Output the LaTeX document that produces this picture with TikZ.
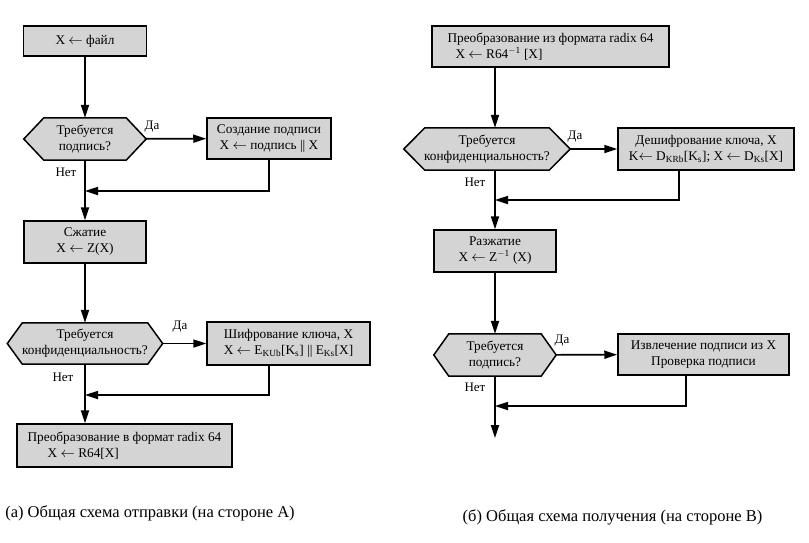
\documentclass[tikz,border=0pt]{standalone}
\usepackage{fontspec}
\setmainfont{Liberation Serif}
\usetikzlibrary{arrows.meta,backgrounds,calc}

\begin{document}
\begin{tikzpicture}[x=1pt,y=-1pt,
	box/.style={draw,line width=1.5pt,fill=black!17,inner sep=1pt,align=center,font=\fontsize{13.3}{16}\selectfont},
	hex/.style={inner sep=1pt,align=center,font=\fontsize{13.3}{16}\selectfont},
	hexline/.style={draw,line width=1.5pt,fill=black!17},
	arr/.style={line width=1.7pt,-{Triangle[length=13pt,width=8pt]}},
	lbl/.style={font=\fontsize{13}{15}\selectfont},
	captxt/.style={font=\fontsize{16.5}{18}\selectfont}]
	\useasboundingbox (0,0) rectangle (809,542);

	% (a) sending side
	\node[box,minimum width=123,minimum height=30] (f1) at (85,41) {X \(\leftarrow\) файл};
	\node[hex,minimum width=122,minimum height=42] (q1) at (85,139) {Требуется\\подпись?};
	\node[box,minimum width=124,minimum height=41] (s1) at (269,138.5) {Создание подписи\\X \(\leftarrow\) подпись || X};
	\node[box,minimum width=122,minimum height=42] (z1) at (85,242) {Сжатие\\X \(\leftarrow\) Z(X)};
	\node[hex,minimum width=155,minimum height=41] (q2) at (85,343.5) {Требуется\\конфиденциальность?};
	\node[box,minimum width=163,minimum height=43] (e1) at (288.5,343.5)
		{Шифрование ключа, X\\X \(\leftarrow\) E\textsubscript{KUb}[K\textsubscript{s}] || E\textsubscript{Ks}[X]};
	\node[box,minimum width=215,minimum height=43,align=left] (r1) at (124.5,445.5)
		{Преобразование в формат radix 64\\\hspace{20pt}X \(\leftarrow\) R64[X]};

	% (b) receiving side
	\node[box,minimum width=237,minimum height=41,align=left] (f2) at (550.5,46.5)
		{Преобразование из формата radix 64\\\hspace{8pt}X \(\leftarrow\) R64\textsuperscript{\(-\)1} [X]};
	\node[hex,minimum width=166,minimum height=42] (q3) at (487,149) {Требуется\\конфиденциальность?};
	\node[box,minimum width=176,minimum height=42] (d2) at (706,149)
		{Дешифрование ключа, X\\K\(\leftarrow\) D\textsubscript{KRb}[K\textsubscript{s}]; X \(\leftarrow\) D\textsubscript{Ks}[X]};
	\node[box,minimum width=122,minimum height=42] (z2) at (495,251) {Разжатие\\X \(\leftarrow\) Z\textsuperscript{\(-\)1} (X)};
	\node[hex,minimum width=122,minimum height=42] (q4) at (495,355) {Требуется\\подпись?};
	\node[box,minimum width=171,minimum height=41] (v2) at (703.5,354.5) {Извлечение подписи из X\\Проверка подписи};

	% hexagons behind the question texts
	\begin{scope}[on background layer]
		\foreach \n/\d in {q1/20,q2/15,q3/21,q4/15}
			\draw[hexline] (\n.west) -- ([xshift=\d]\n.north west) -- ([xshift=-\d]\n.north east) -- (\n.east)
				-- ([xshift=-\d]\n.south east) -- ([xshift=\d]\n.south west) -- cycle;
	\end{scope}

	% yes / no labels
	\node[lbl] (y1) at (152,127) {Да};
	\node[lbl] (n1) at (66,172) {Нет};
	\node[lbl] (y2) at (180,327) {Да};
	\node[lbl] (n2) at (63,377) {Нет};
	\node[lbl] (y3) at (575,137) {Да};
	\node[lbl] (n3) at (475,182) {Нет};
	\node[lbl] (y4) at (562,341) {Да};
	\node[lbl] (n4) at (475,387) {Нет};

	% merge points
	\coordinate (m1) at (85,191);
	\coordinate (m2) at (85,395);
	\coordinate (m3) at (495,200);
	\coordinate (m4) at (495,406);
	\coordinate (out) at (495,438);

	\draw[arr] (f1) -- (q1);
	\draw[arr] (q1) -- (s1);
	\draw[arr] (s1.south) |- (m1);
	\draw[arr] (q1) -- (z1);
	\draw[arr] (z1) -- (q2);
	\draw[arr] (q2) -- (e1);
	\draw[arr] ([xshift=-19.5]e1.south) |- (m2);
	\draw[arr] (q2) -- (r1.north -| q2);

	\draw[arr] (f2.south -| z2) -- (q3.north -| z2);
	\draw[arr] (q3) -- (d2);
	\draw[arr] ([xshift=-27]d2.south) |- (m3);
	\draw[arr] (q3.south -| z2) -- (z2);
	\draw[arr] (z2) -- (q4);
	\draw[arr] (q4) -- (v2);
	\draw[arr] ([xshift=-17.5]v2.south) |- (m4);
	\draw[arr] (q4) -- (out);

	% captions
	\node[captxt] (ca) at (150,513) {(а) Общая схема отправки (на стороне А)};
	\node[captxt] (cb) at (612.5,517) {(б) Общая схема получения (на стороне В)};
\end{tikzpicture}
\end{document}
